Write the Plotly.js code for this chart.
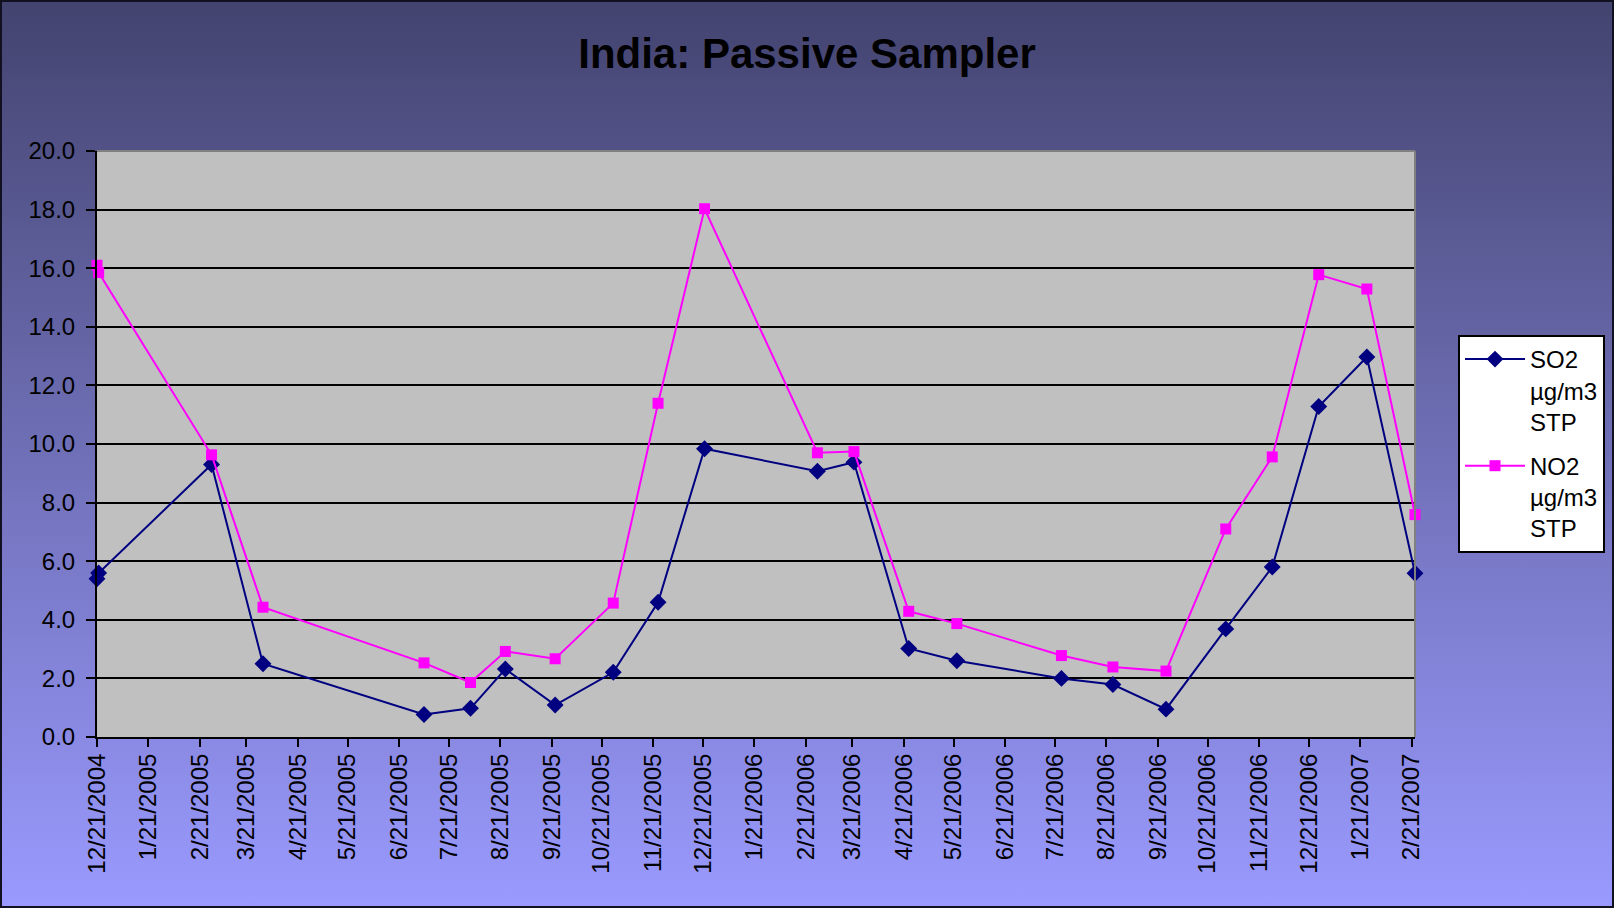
<!DOCTYPE html>
<html>
<head>
<meta charset="utf-8">
<script src="https://cdn.plot.ly/plotly-3.0.1.min.js"></script>
<style>
  html, body { margin: 0; padding: 0; overflow: hidden; }
  #wrap { position: relative; width: 1614px; height: 908px;
          background: linear-gradient(to bottom, #43436f 0%, #6b6bb0 45%, #9a9aff 100%); }
  #chart { position: absolute; left: 0; top: 0; width: 1614px; height: 908px; }
  #frame { position: absolute; left: 0; top: 0; width: 1614px; height: 908px;
           box-sizing: border-box; border: 2px solid #111122; pointer-events: none; }
</style>
</head>
<body>
<div id="wrap"><div id="chart"></div><div id="frame"></div></div>
<script>
const dates = ['2004-12-21','2004-12-22','2005-02-28','2005-03-31','2005-07-06','2005-08-03','2005-08-24',
  '2005-09-23','2005-10-28','2005-11-24','2005-12-22','2006-02-28','2006-03-22','2006-04-24','2006-05-23',
  '2006-07-25','2006-08-25','2006-09-26','2006-11-01','2006-11-29','2006-12-27','2007-01-25','2007-02-23'];
const so2 = [5.4, 5.6, 9.3, 2.5, 0.77, 0.98, 2.32, 1.09, 2.21, 4.6, 9.84, 9.07, 9.38, 3.02, 2.6,
  2.0, 1.79, 0.95, 3.69, 5.8, 11.28, 12.97, 5.59];
const no2 = [16.1, 15.85, 9.63, 4.43, 2.53, 1.86, 2.92, 2.67, 4.57, 11.39, 18.03, 9.7, 9.74, 4.29, 3.87,
  2.78, 2.39, 2.25, 7.1, 9.56, 15.78, 15.29, 7.59];
const so2Name = 'SO2<br>µg/m3<br>STP';
const no2Name = 'NO2<br>µg/m3<br>STP';
const chartTitle = 'India: Passive Sampler';

const font = 'Liberation Sans, Arial, sans-serif';

const traces = [
  { x: dates, y: so2, name: so2Name, legendgroup: 'so2', type: 'scatter', mode: 'lines+markers', cliponaxis: false,
    line: { color: '#000080', width: 2 },
    marker: { symbol: 'diamond', size: 13, color: '#000080' } },
  { x: dates, y: no2, name: no2Name, legendgroup: 'no2', type: 'scatter', mode: 'lines+markers', cliponaxis: false,
    line: { color: '#ff00ff', width: 2 },
    marker: { symbol: 'square', size: 11, color: '#ff00ff' } }
];

const layout = {
  width: 1614, height: 908,
  paper_bgcolor: 'rgba(0,0,0,0)',
  plot_bgcolor: '#c0c0c0',
  margin: { l: 97, r: 199, t: 151, b: 171, pad: 0, autoexpand: false },
  font: { family: font, color: '#000000', size: 24 },
  title: { text: '<b>' + chartTitle + '</b>', font: { family: font, size: 42, color: '#000000' },
           x: 0.5, xref: 'container', xanchor: 'center', y: 1 - 53/908, yref: 'container', yanchor: 'middle' },
  showlegend: true,
  legend: { x: 1458/1614, xref: 'container', xanchor: 'left', y: 1 - 335/908, yref: 'container', yanchor: 'top',
            valign: 'top', itemwidth: 60, traceorder: 'grouped',
            bgcolor: '#ffffff', bordercolor: '#000000', borderwidth: 2,
            font: { family: font, size: 24, color: '#000000' }, tracegroupgap: 10 },
  xaxis: {
    type: 'date', range: ['2004-12-21', '2007-02-23'],
    tick0: '2004-12-21', dtick: 'M1', tickformat: '%-m/%-d/%Y',
    tickangle: -90, ticks: 'outside', ticklen: 8, tickwidth: 2, tickcolor: '#000000',
    showgrid: false, zeroline: false, showline: true, linecolor: '#000000', linewidth: 2,
    tickfont: { family: font, size: 24, color: '#000000' }, ticklabelstandoff: -3
  },
  yaxis: {
    range: [0, 20], dtick: 2, tick0: 0, tickformat: '.1f',
    ticks: 'outside', ticklen: 9, tickwidth: 2, tickcolor: '#000000',
    showgrid: true, gridcolor: '#000000', gridwidth: 2, zeroline: false,
    showline: true, linecolor: '#000000', linewidth: 2,
    tickfont: { family: font, size: 24, color: '#000000' }, ticklabelstandoff: 6
  },
  shapes: [
    { type: 'line', xref: 'paper', yref: 'paper', x0: 0, x1: 1, y0: 1, y1: 1,
      line: { color: '#808080', width: 2 }, layer: 'above' },
    { type: 'line', xref: 'paper', yref: 'paper', x0: 1, x1: 1, y0: 0, y1: 1,
      line: { color: '#808080', width: 2 }, layer: 'above' }
  ]
};

Plotly.newPlot('chart', traces, layout, { displayModeBar: false, staticPlot: true });
</script>
</body>
</html>
